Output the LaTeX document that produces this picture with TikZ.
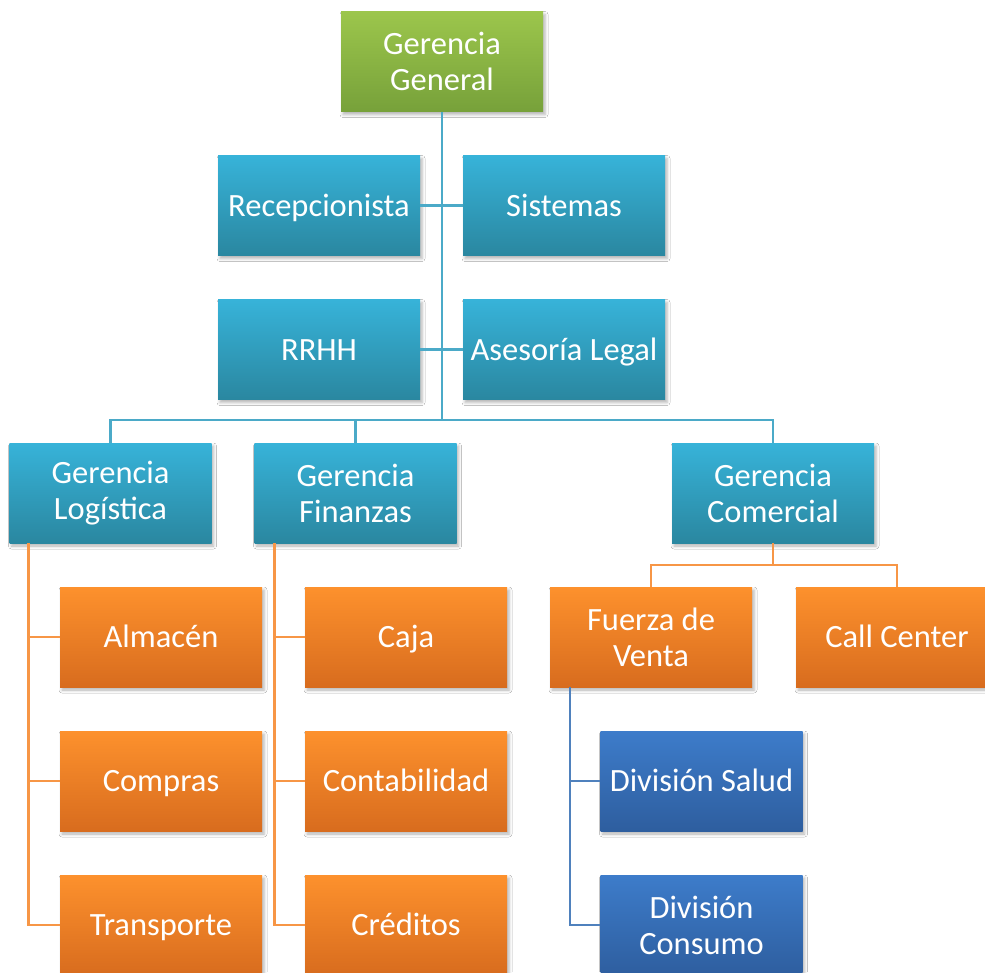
\documentclass[tikz,border=0pt]{standalone}
\usepackage{fontspec}
\setmainfont{Carlito}
\usetikzlibrary{shadows.blur,calc}
\definecolor{gTop}{HTML}{9CC64C}
\definecolor{gBot}{HTML}{77A13A}
\definecolor{bTop}{HTML}{37B3D9}
\definecolor{bBot}{HTML}{2A87A0}
\definecolor{oTop}{HTML}{FD912D}
\definecolor{oBot}{HTML}{D86C1E}
\definecolor{dTop}{HTML}{3D7CCA}
\definecolor{dBot}{HTML}{2E5E9F}
\definecolor{bLine}{HTML}{4BAAC8}
\definecolor{oLine}{HTML}{F79646}
\definecolor{dLine}{HTML}{4F81BD}
\tikzset{
  unit/.style={minimum width=202pt, minimum height=100pt, inner sep=2pt,
    text=white, align=center,
    font=\fontsize{32.5}{36}\selectfont,
    blur shadow={shadow xshift=2pt, shadow yshift=-3pt, shadow blur radius=3pt, shadow opacity=30}},
  oneline/.style={text height=30pt, text depth=9pt},
  greenbox/.style={unit, top color=gTop, bottom color=gBot},
  bluebox/.style={unit, top color=bTop, bottom color=bBot},
  orangebox/.style={unit, top color=oTop, bottom color=oBot},
  navybox/.style={unit, top color=dTop, bottom color=dBot},
  bwire/.style={draw=bLine, line width=2.5pt},
  owire/.style={draw=oLine, line width=2.5pt},
  dwire/.style={draw=dLine, line width=2.5pt}
}
\begin{document}
\begin{tikzpicture}[x=1pt, y=-1pt]
\useasboundingbox (0,0) rectangle (985,972);
\clip (0,0) rectangle (985,972);
\fill[white] (0,0) rectangle (985,972);

% top management and staff units
\node[greenbox] (gg) at (442,61.5) {Gerencia\\General};
\node[bluebox, oneline] (rec) at (319,205.5) {Recepcionista};
\node[bluebox, oneline] (sis) at (564,205.5) {Sistemas};
\node[bluebox, oneline] (rrhh) at (319,349.5) {RRHH};
\node[bluebox, oneline] (leg) at (564,349.5) {Asesoría Legal};

% area managers
\node[bluebox] (gl) at (110.5,493) {Gerencia\\Logística};
\node[bluebox] (gf) at (355.5,493) {Gerencia\\Finanzas};
\node[bluebox] (gc) at (773,493) {Gerencia\\Comercial};

% logistics
\node[orangebox, oneline] (alm) at (161,637) {Almacén};
\node[orangebox, oneline] (comp) at (161,781) {Compras};
\node[orangebox, oneline] (tra) at (161,925) {Transporte};

% finance
\node[orangebox, oneline] (caja) at (406,637) {Caja};
\node[orangebox, oneline] (cont) at (406,781) {Contabilidad};
\node[orangebox, oneline] (cred) at (406,925) {Créditos};

% sales
\node[orangebox] (fv) at (651,637) {Fuerza de\\Venta};
\node[orangebox, oneline] (cc) at (897,637) {Call Center};
\node[navybox, oneline] (ds) at (701.5,781) {División Salud};
\node[navybox] (dc) at (701.5,925) {División\\Consumo};

% connectors
\coordinate (bus) at (442,420);
\coordinate (cbus) at (773,565);
\path[bwire] (gg.south) -- (bus);
\path[bwire] (rec.east) -- (sis.west);
\path[bwire] (rrhh.east) -- (leg.west);
\path[bwire] (gl.north) |- (bus) -| (gc.north);
\path[bwire] (gf.north) -- (gf.north |- bus);

\path[owire] ($(gl.south west)+(19,0)$) |- (tra.west);
\path[owire] ($(gl.south west)+(19,0)$) |- (alm.west);
\path[owire] ($(gl.south west)+(19,0)$) |- (comp.west);

\path[owire] ($(gf.south west)+(20,0)$) |- (cred.west);
\path[owire] ($(gf.south west)+(20,0)$) |- (caja.west);
\path[owire] ($(gf.south west)+(20,0)$) |- (cont.west);

\path[owire] (gc.south) -- (cbus);
\path[owire] (fv.north) |- (cbus) -| (cc.north);

\path[dwire] ($(fv.south west)+(20,0)$) |- (dc.west);
\path[dwire] ($(fv.south west)+(20,0)$) |- (ds.west);
\end{tikzpicture}
\end{document}
